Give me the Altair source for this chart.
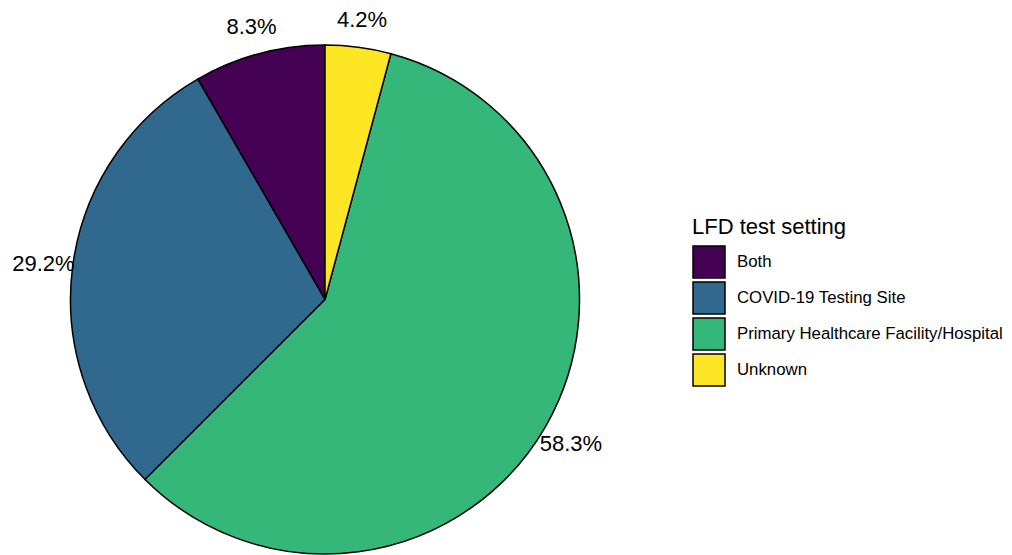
import altair as alt
import pandas as pd

categories = ["Both", "COVID-19 Testing Site", "Primary Healthcare Facility/Hospital", "Unknown"]
counts = [2, 7, 14, 1]
labels = ["8.3%", "29.2%", "58.3%", "4.2%"]
stack_order = [4, 3, 2, 1]
colors = ["#440154", "#31688E", "#35B779", "#FDE725"]

df = pd.DataFrame({"setting": categories, "n": counts, "label": labels, "ord": stack_order})

CX, CY, R = 317, 290.5, 254.5
FONT = "Liberation Sans"

base = alt.Chart(df).encode(
    theta=alt.Theta("n:Q", stack=True),
    order=alt.Order("ord:Q", sort="ascending"),
)

pie = base.mark_arc(stroke="black", strokeWidth=1.5, opacity=1).encode(
    color=alt.Color(
        "setting:N",
        scale=alt.Scale(domain=categories, range=colors),
        legend=alt.Legend(
            title="LFD test setting",
            orient="none",
            legendX=684,
            legendY=208,
            padding=0,
            titleFont=FONT,
            titleFontSize=22,
            titleFontWeight="normal",
            titleColor="black",
            titlePadding=6,
            labelFont=FONT,
            labelFontSize=16.8,
            labelColor="black",
            labelOffset=11,
            symbolType="square",
            symbolSize=1024,
            symbolStrokeColor="black",
            symbolStrokeWidth=1.5,
            symbolOpacity=1,
            rowPadding=-8,
            labelLimit=400,
        ),
    ),
    x=alt.value(CX),
    y=alt.value(CY),
    radius=alt.value(R),
)

text = base.mark_text(font=FONT, fontSize=22, color="black", align="center", baseline="middle", dy=2).encode(
    text="label:N",
    x=alt.value(CX),
    y=alt.value(CY),
    radius=alt.value(284),
)

chart = (pie + text).properties(width=640, height=547, padding=0).configure_view(stroke=None)

chart.save("out.html", embed_options={"renderer": "svg", "actions": False})
